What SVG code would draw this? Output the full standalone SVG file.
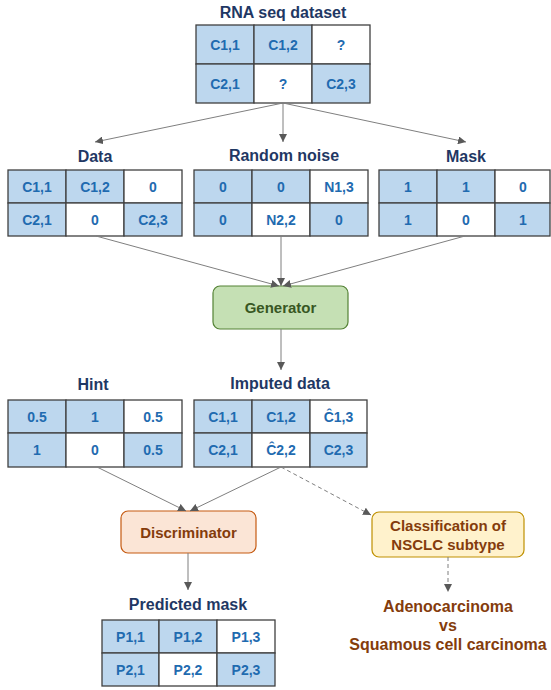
<svg xmlns="http://www.w3.org/2000/svg" width="551" height="690" viewBox="0 0 551 690">
<style>
.b{fill:#bdd7ee;stroke:#404040;stroke-width:1.3}
.w{fill:#ffffff;stroke:#404040;stroke-width:1.3}
.c{font-family:"Liberation Sans",Arial,sans-serif;font-weight:bold;font-size:14px;fill:#1f6bb0;text-anchor:middle}
.t{font-family:"Liberation Sans",Arial,sans-serif;font-weight:bold;font-size:16px;fill:#1f3864;text-anchor:middle}
.ln{stroke:#7f7f7f;stroke-width:1;fill:none}
.dl{stroke:#7f7f7f;stroke-width:1;fill:none;stroke-dasharray:4,3}
.o{font-family:"Liberation Sans",Arial,sans-serif;font-weight:bold;font-size:16px;fill:#843c0c;text-anchor:middle}
.bx{font-family:"Liberation Sans",Arial,sans-serif;font-weight:bold;font-size:15px;text-anchor:middle}
</style>
<defs>
<marker id="ah" viewBox="0 0 10 10" refX="10" refY="5" markerWidth="8" markerHeight="8" orient="auto" markerUnits="userSpaceOnUse">
<path d="M0,0 L10,5 L0,10 z" fill="#595959"/>
</marker>
</defs>
<rect width="551" height="690" fill="#ffffff"/>

<g id="rna">
<text class="t" x="283" y="18">RNA seq dataset</text>
<rect class="b" x="196" y="25" width="58" height="39"/><rect class="b" x="254" y="25" width="58" height="39"/><rect class="w" x="312" y="25" width="58" height="39"/>
<rect class="b" x="196" y="64" width="58" height="39"/><rect class="w" x="254" y="64" width="58" height="39"/><rect class="b" x="312" y="64" width="58" height="39"/>
<text class="c" x="225" y="49.5">C1,1</text><text class="c" x="283" y="49.5">C1,2</text><text class="c" x="341" y="49.5">?</text>
<text class="c" x="225" y="88.5">C2,1</text><text class="c" x="283" y="88.5">?</text><text class="c" x="341" y="88.5">C2,3</text>
</g>

<g id="data">
<text class="t" x="95" y="162">Data</text>
<rect class="b" x="8" y="170" width="58" height="33"/><rect class="b" x="66" y="170" width="58" height="33"/><rect class="w" x="124" y="170" width="58" height="33"/>
<rect class="b" x="8" y="203" width="58" height="33"/><rect class="w" x="66" y="203" width="58" height="33"/><rect class="b" x="124" y="203" width="58" height="33"/>
<text class="c" x="37" y="191.5">C1,1</text><text class="c" x="95" y="191.5">C1,2</text><text class="c" x="153" y="191.5">0</text>
<text class="c" x="37" y="224.5">C2,1</text><text class="c" x="95" y="224.5">0</text><text class="c" x="153" y="224.5">C2,3</text>
</g>

<g id="noise">
<text class="t" x="284" y="161">Random noise</text>
<rect class="b" x="194" y="170" width="58" height="33"/><rect class="b" x="252" y="170" width="58" height="33"/><rect class="w" x="310" y="170" width="58" height="33"/>
<rect class="b" x="194" y="203" width="58" height="33"/><rect class="w" x="252" y="203" width="58" height="33"/><rect class="b" x="310" y="203" width="58" height="33"/>
<text class="c" x="223" y="191.5">0</text><text class="c" x="281" y="191.5">0</text><text class="c" x="339" y="191.5">N1,3</text>
<text class="c" x="223" y="224.5">0</text><text class="c" x="281" y="224.5">N2,2</text><text class="c" x="339" y="224.5">0</text>
</g>

<g id="mask">
<text class="t" x="466" y="162">Mask</text>
<rect class="b" x="379" y="170" width="58" height="33"/><rect class="b" x="437" y="170" width="58" height="33"/><rect class="w" x="495" y="170" width="55" height="33"/>
<rect class="b" x="379" y="203" width="58" height="33"/><rect class="w" x="437" y="203" width="58" height="33"/><rect class="b" x="495" y="203" width="55" height="33"/>
<text class="c" x="408" y="191.5">1</text><text class="c" x="466" y="191.5">1</text><text class="c" x="523" y="191.5">0</text>
<text class="c" x="408" y="224.5">1</text><text class="c" x="466" y="224.5">0</text><text class="c" x="523" y="224.5">1</text>
</g>

<g id="generator">
<rect x="213" y="286" width="135" height="43" rx="7" fill="#c5e0b4" stroke="#548235" stroke-width="1.2"/>
<text class="bx" x="280.5" y="313" fill="#385723">Generator</text>
</g>

<g id="hint">
<text class="t" x="93" y="390">Hint</text>
<rect class="b" x="8" y="400" width="58" height="33"/><rect class="b" x="66" y="400" width="58" height="33"/><rect class="w" x="124" y="400" width="58" height="33"/>
<rect class="b" x="8" y="433" width="58" height="34"/><rect class="w" x="66" y="433" width="58" height="34"/><rect class="b" x="124" y="433" width="58" height="34"/>
<text class="c" x="37" y="421.5">0.5</text><text class="c" x="95" y="421.5">1</text><text class="c" x="153" y="421.5">0.5</text>
<text class="c" x="37" y="455">1</text><text class="c" x="95" y="455">0</text><text class="c" x="153" y="455">0.5</text>
</g>

<g id="imputed">
<text class="t" x="280" y="389">Imputed data</text>
<rect class="b" x="194" y="400" width="58" height="33"/><rect class="b" x="252" y="400" width="58" height="33"/><rect class="w" x="310" y="400" width="57" height="33"/>
<rect class="b" x="194" y="433" width="58" height="34"/><rect class="w" x="252" y="433" width="58" height="34"/><rect class="b" x="310" y="433" width="57" height="34"/>
<text class="c" x="223" y="421.5">C1,1</text><text class="c" x="281" y="421.5">C1,2</text><text class="c" x="338.5" y="421.5">Ĉ1,3</text>
<text class="c" x="223" y="455">C2,1</text><text class="c" x="281" y="455">Ĉ2,2</text><text class="c" x="338.5" y="455">C2,3</text>
</g>

<g id="discriminator">
<rect x="121" y="511" width="135" height="42" rx="7" fill="#fbe5d6" stroke="#c55a11" stroke-width="1.2"/>
<text class="bx" x="188.5" y="537.5" fill="#843c0c">Discriminator</text>
</g>

<g id="classification">
<rect x="372" y="512" width="152" height="45" rx="7" fill="#fff2cc" stroke="#bf9000" stroke-width="1.2"/>
<text class="bx" x="448" y="531" fill="#843c0c">Classification of</text>
<text class="bx" x="448" y="549.5" fill="#843c0c">NSCLC subtype</text>
</g>

<g id="outcome">
<text class="o" x="448" y="612">Adenocarcinoma</text>
<text class="o" x="448" y="631">vs</text>
<text class="o" x="448" y="650">Squamous cell carcinoma</text>
</g>

<g id="predicted">
<text class="t" x="188" y="610">Predicted mask</text>
<rect class="b" x="102" y="620" width="57" height="33"/><rect class="b" x="159" y="620" width="58" height="33"/><rect class="w" x="217" y="620" width="58" height="33"/>
<rect class="b" x="102" y="653" width="57" height="33"/><rect class="w" x="159" y="653" width="58" height="33"/><rect class="b" x="217" y="653" width="58" height="33"/>
<text class="c" x="130.5" y="641.5">P1,1</text><text class="c" x="188" y="641.5">P1,2</text><text class="c" x="246" y="641.5">P1,3</text>
<text class="c" x="130.5" y="674.5">P2,1</text><text class="c" x="188" y="674.5">P2,2</text><text class="c" x="246" y="674.5">P2,3</text>
</g>

<g id="connectors">
<line class="ln" x1="283" y1="103" x2="95" y2="142" marker-end="url(#ah)"/>
<line class="ln" x1="283" y1="103" x2="283" y2="142" marker-end="url(#ah)"/>
<line class="ln" x1="283" y1="103" x2="466" y2="142" marker-end="url(#ah)"/>
<line class="ln" x1="96" y1="236" x2="279" y2="286" marker-end="url(#ah)"/>
<line class="ln" x1="281" y1="236" x2="281" y2="286" marker-end="url(#ah)"/>
<line class="ln" x1="465" y1="236" x2="283" y2="286" marker-end="url(#ah)"/>
<line class="ln" x1="281" y1="329" x2="281" y2="370" marker-end="url(#ah)"/>
<line class="ln" x1="97" y1="467" x2="186" y2="511" marker-end="url(#ah)"/>
<line class="ln" x1="281" y1="467" x2="190" y2="511" marker-end="url(#ah)"/>
<line class="dl" x1="281" y1="467" x2="371" y2="515" marker-end="url(#ah)"/>
<line class="ln" x1="188" y1="553" x2="188" y2="590" marker-end="url(#ah)"/>
<line class="dl" x1="448" y1="557" x2="448" y2="592" marker-end="url(#ah)"/>
</g>
</svg>
